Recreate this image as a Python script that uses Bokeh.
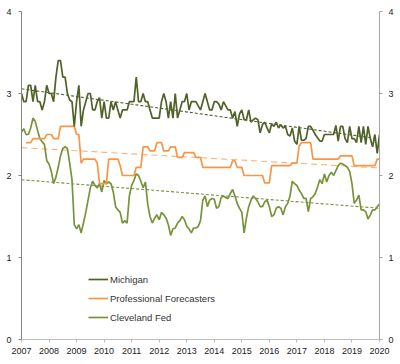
import numpy as np
from bokeh.plotting import figure
from bokeh.models import (Range1d, LinearAxis, FixedTicker, Legend, LegendItem)
from bokeh.embed import file_html
from bokeh.resources import INLINE

# ---- data (monthly, Jan 2007 .. Jan 2020) ----
start_year = 2007
year_ticks = [2007, 2008, 2009, 2010, 2011, 2012, 2013, 2014, 2015, 2016, 2017, 2018, 2019, 2020]
y_ticks = [0, 1, 2, 3, 4]
series_names = ["Michigan", "Professional Forecasters", "Cleveland Fed"]

michigan = [
    3.0, 2.9, 2.9, 3.1, 3.1, 2.9, 3.1, 2.9, 2.9, 2.8, 2.9, 3.1,
    3.0, 3.0, 2.9, 3.2, 3.4, 3.4, 3.2, 3.2, 3.0, 2.92, 2.9, 2.6,
    2.9, 3.1, 2.6, 2.8, 2.9, 3.0, 3.0, 2.8, 2.8, 2.9, 2.95, 2.7,
    2.9, 2.7, 2.7, 2.9, 2.8, 2.9, 2.8, 2.7, 2.8, 2.8, 2.8, 2.9,
    2.9, 2.9, 3.2, 2.9, 2.9, 3.0, 2.9, 2.9, 2.8, 2.7, 2.7, 2.7,
    2.7, 2.9, 3.0, 2.9, 2.7, 2.9, 2.7, 3.0, 2.7, 2.8, 2.9, 2.9,
    3.0, 2.8, 2.9, 2.9, 2.9, 2.85, 2.8, 2.9, 3.0, 2.9, 2.8, 2.8,
    2.9, 2.9, 2.87, 2.8, 2.9, 2.85, 2.8, 2.8, 2.7, 2.78, 2.6, 2.75,
    2.8, 2.68, 2.68, 2.8, 2.65, 2.68, 2.7, 2.68, 2.52, 2.62, 2.65, 2.58,
    2.52, 2.63, 2.6, 2.65, 2.58, 2.62, 2.58, 2.6, 2.5, 2.48, 2.58, 2.42,
    2.38, 2.6, 2.43, 2.43, 2.45, 2.6, 2.6, 2.55, 2.5, 2.46, 2.42, 2.42,
    2.5, 2.5, 2.5, 2.5, 2.5, 2.61, 2.42, 2.6, 2.6, 2.45, 2.4, 2.6,
    2.45, 2.45, 2.4, 2.6, 2.4, 2.6, 2.38, 2.6, 2.45, 2.35, 2.5, 2.27,
    2.5,
]

professional = [
    np.nan, np.nan, 2.40, 2.40, 2.40, 2.45, 2.45, 2.45, 2.45, 2.45, 2.45, 2.50,
    2.50, 2.50, 2.45, 2.45, 2.45, 2.60, 2.60, 2.60, 2.60, 2.60, 2.60, 2.60,
    2.50, 2.50, 2.15, 2.20, 2.20, 2.20, 2.20, 2.20, 2.20, 2.15, 1.90, 1.90,
    1.90, 1.90, 2.20, 2.20, 2.20, 2.20, 2.20, 2.12, 2.00, 2.00, 2.00, 2.00,
    2.00, 2.00, 2.10, 2.10, 2.10, 2.35, 2.35, 2.35, 2.30, 2.30, 2.30, 2.40,
    2.40, 2.40, 2.30, 2.30, 2.30, 2.35, 2.35, 2.35, 2.22, 2.22, 2.22, 2.28,
    2.28, 2.28, 2.28, 2.28, 2.22, 2.22, 2.22, 2.10, 2.10, 2.10, 2.10, 2.10,
    2.10, 2.10, 2.10, 2.10, 2.10, 2.10, 2.10, 2.10, 2.18, 2.18, 2.10, 2.10,
    2.10, 2.00, 2.00, 2.00, 2.00, 2.00, 2.00, 2.00, 2.00, 2.00, 1.91, 1.91,
    1.91, 2.12, 2.12, 2.12, 2.12, 2.12, 2.12, 2.12, 2.12, 2.12, 2.15, 2.15,
    2.15, 2.36, 2.40, 2.40, 2.40, 2.40, 2.40, 2.20, 2.20, 2.20, 2.20, 2.20,
    2.20, 2.20, 2.20, 2.20, 2.20, 2.20, 2.20, 2.24, 2.24, 2.24, 2.24, 2.24,
    2.24, 2.12, 2.12, 2.12, 2.12, 2.12, 2.12, 2.12, 2.12, 2.12, 2.12, 2.20,
    2.20,
]

cleveland = [
    2.53, 2.57, 2.50, 2.50, 2.58, 2.70, 2.66, 2.55, 2.45, 2.41, 2.38, 2.18,
    2.14, 2.05, 1.90, 1.98, 2.10, 2.24, 2.33, 2.35, 2.33, 2.15, 1.95, 1.40,
    1.35, 1.40, 1.30, 1.42, 1.55, 1.70, 1.85, 1.93, 1.88, 1.85, 1.90, 1.80,
    1.94, 1.90, 1.92, 1.90, 1.80, 1.62, 1.58, 1.55, 1.42, 1.45, 1.42, 1.75,
    1.88, 1.94, 2.02, 2.00, 1.93, 1.85, 1.92, 1.65, 1.50, 1.42, 1.48, 1.52,
    1.46, 1.55, 1.52, 1.48, 1.40, 1.27, 1.35, 1.36, 1.42, 1.45, 1.50, 1.46,
    1.38, 1.35, 1.30, 1.36, 1.36, 1.38, 1.45, 1.70, 1.75, 1.62, 1.70, 1.72,
    1.71, 1.60, 1.62, 1.73, 1.75, 1.73, 1.72, 1.78, 1.83, 1.75, 1.66, 1.60,
    1.55, 1.30, 1.48, 1.62, 1.70, 1.75, 1.72, 1.68, 1.62, 1.62, 1.68, 1.70,
    1.62, 1.50, 1.52, 1.60, 1.62, 1.60, 1.52, 1.62, 1.66, 1.75, 1.93, 1.90,
    1.88, 1.82, 1.78, 1.72, 1.72, 1.56, 1.72, 1.74, 1.78, 1.86, 1.95, 1.90,
    2.02, 1.92, 2.00, 2.04, 2.00, 2.06, 2.12, 2.15, 2.14, 2.12, 2.10, 2.05,
    1.90, 1.66, 1.70, 1.76, 1.58, 1.58, 1.56, 1.47, 1.52, 1.58, 1.58, 1.62,
    1.65,
]

# ---- styling ----
colors = ["#4F6228", "#F79646", "#77933C"]
trend_colors = ["#4F6228", "#FAB27A", "#77933C"]
trend_dash = ["3 2", "6 4", "3 2"]
FONT = "Liberation Sans"

n = len(michigan)
x = np.array([start_year + i / 12.0 for i in range(n)])

p = figure(width=400, height=364, output_backend="svg", toolbar_location=None,
           x_range=Range1d(year_ticks[0], year_ticks[-1]),
           y_range=Range1d(y_ticks[0], y_ticks[-1]),
           min_border_left=21, min_border_right=21, min_border_top=11,
           min_border_bottom=25)
p.outline_line_color = None
p.xgrid.visible = False
p.ygrid.visible = False
p.background_fill_color = "white"
p.border_fill_color = "white"

# axes
def style_axis(ax, line_color):
    ax.axis_line_color = line_color
    ax.axis_line_width = 1
    ax.major_tick_line_color = line_color
    ax.major_tick_in = 0
    ax.major_tick_out = 3
    ax.minor_tick_line_color = None
    ax.major_label_text_font = FONT
    ax.major_label_text_font_size = "9px"
    ax.major_label_text_color = "#222222"

p.xaxis.ticker = FixedTicker(ticks=year_ticks)
p.xaxis.major_label_overrides = {t: str(t) for t in year_ticks}
style_axis(p.xaxis[0], "#BFBFBF")
p.xaxis.major_label_standoff = 5

p.yaxis.ticker = FixedTicker(ticks=y_ticks)
style_axis(p.yaxis[0], "#868686")
p.yaxis.major_label_standoff = 7

right_axis = LinearAxis(ticker=FixedTicker(ticks=y_ticks))
style_axis(right_axis, "#A6A6A6")
right_axis.major_label_standoff = 6
p.add_layout(right_axis, "right")

# trend lines (least squares on the data)
series = [michigan, professional, cleveland]
for vals, tc, td in zip(series, trend_colors, trend_dash):
    v = np.array(vals, dtype=float)
    mask = ~np.isnan(v)
    k, b = np.polyfit(x[mask], v[mask], 1)
    xs = np.array([year_ticks[0], year_ticks[-1]], dtype=float)
    p.line(xs, k * xs + b, line_color=tc, line_width=1.1, line_dash=td)

# series
order = [2, 1, 0]
rmap = {}
for i in order:
    r = p.line(x, np.array(series[i], dtype=float), line_color=colors[i], line_width=1.7)
    rmap[i] = r

items = [LegendItem(label=series_names[i], renderers=[rmap[i]]) for i in range(3)]
legend = Legend(items=items, location=(67, 16))
legend.background_fill_alpha = 0
legend.border_line_color = None
legend.padding = 0
legend.margin = 0
legend.glyph_width = 20
legend.glyph_height = 12
legend.label_height = 12
legend.spacing = 7
legend.label_standoff = 2
legend.label_text_font = FONT
legend.label_text_font_size = "9.5px"
legend.label_text_color = "#333333"
p.add_layout(legend)

html = file_html(p, INLINE)
open("out.html", "w").write(html)
